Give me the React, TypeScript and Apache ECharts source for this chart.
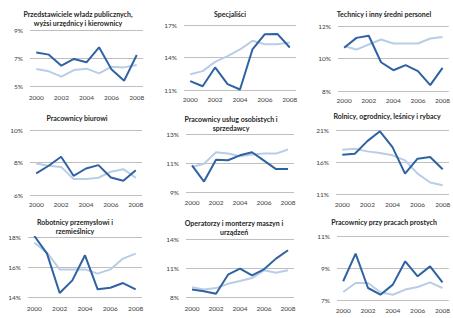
import React, { useEffect, useRef } from "react";
import * as echarts from "echarts";

const years = ["2000", "2001", "2002", "2003", "2004", "2005", "2006", "2007", "2008"];

const titles = [
  "Przedstawiciele władz publicznych,\nwyżsi urzędnicy i kierownicy",
  "Specjaliści",
  "Technicy i inny średni personel",
  "Pracownicy biurowi",
  "Pracownicy usług osobistych i\nsprzedawcy",
  "Rolnicy, ogrodnicy, leśnicy i rybacy",
  "Robotnicy przemysłowi i\nrzemieślnicy",
  "Operatorzy i monterzy maszyn i\nurządzeń",
  "Pracownicy przy pracach prostych",
];

// dark line (series A) and light line (series B), in %
const p1A = [7.4, 7.24, 6.45, 6.93, 6.69, 7.76, 6.17, 5.38, 7.21];
const p1B = [6.21, 6.05, 5.67, 6.14, 6.24, 5.9, 6.38, 6.33, 6.5];
const p2A = [11.82, 11.35, 13.08, 11.54, 11.05, 14.74, 16.15, 16.18, 14.92];
const p2B = [12.46, 12.74, 13.6, 14.12, 14.74, 15.54, 15.23, 15.23, 15.38];
const p3A = [10.66, 11.27, 11.4, 9.77, 9.28, 9.59, 9.22, 8.36, 9.42];
const p3B = [10.76, 10.55, 10.86, 11.17, 10.92, 10.92, 10.92, 11.23, 11.33];
const p4A = [7.33, 7.8, 8.35, 7.18, 7.63, 7.84, 7.08, 6.88, 7.53];
const p4B = [7.94, 7.8, 7.73, 6.98, 6.98, 7.06, 7.43, 7.59, 7.06];
const p5A = [10.84, 9.72, 11.23, 11.19, 11.53, 11.74, 11.16, 10.58, 10.58];
const p5B = [10.72, 10.95, 11.74, 11.65, 11.47, 11.58, 11.65, 11.65, 11.93];
const p6A = [17.14, 17.3, 19.26, 20.8, 18.33, 14.19, 16.52, 16.78, 14.86];
const p6B = [17.92, 18.07, 17.66, 17.4, 17.04, 16.26, 14.19, 12.8, 12.37];
const p7A = [18.07, 16.89, 14.27, 15.11, 16.78, 14.51, 14.62, 14.93, 14.51];
const p7B = [17.62, 16.96, 15.84, 15.84, 15.84, 15.56, 15.84, 16.56, 16.89];
const p8A = [8.78, 8.6, 8.33, 10.31, 10.93, 10.24, 10.86, 11.97, 12.84];
const p8B = [9.02, 8.78, 8.92, 9.37, 9.65, 9.96, 10.76, 10.51, 10.76];
const p9A = [8.17, 9.9, 7.75, 7.33, 7.96, 9.42, 8.48, 9.1, 8.1];
const p9B = [7.5, 8.06, 8.06, 7.48, 7.33, 7.65, 7.81, 8.1, 7.75];

const seriesA = [p1A, p2A, p3A, p4A, p5A, p6A, p7A, p8A, p9A];
const seriesB = [p1B, p2B, p3B, p4B, p5B, p6B, p7B, p8B, p9B];

const yMin = [5, 11, 8, 6, 9, 11, 14, 8, 7];
const yMax = [9, 17, 12, 10, 13, 21, 18, 14, 11];
const yStep = [2, 3, 2, 2, 2, 5, 2, 3, 2];

// layout (pixels)
const grids = [
  { left: 30, top: 30, width: 113, height: 56 },
  { left: 184, top: 25, width: 112, height: 65 },
  { left: 338, top: 26, width: 112, height: 65 },
  { left: 30, top: 130, width: 112, height: 65 },
  { left: 186, top: 134, width: 108, height: 58 },
  { left: 336, top: 130, width: 117, height: 64 },
  { left: 28, top: 237, width: 114, height: 60 },
  { left: 186, top: 239, width: 108, height: 58 },
  { left: 337, top: 236, width: 112, height: 64 },
];
const titlePos = [
  { x: 78, y: 13 },
  { x: 230, y: 13 },
  { x: 384, y: 13 },
  { x: 77, y: 117 },
  { x: 231, y: 118 },
  { x: 387, y: 115 },
  { x: 75, y: 221 },
  { x: 234, y: 222 },
  { x: 384, y: 221 },
];
const xLabelMargin = [8, 6, 6, 6, 7, 7, 8, 8, 7];

const FONT = "Lato";
const DARK = "#2F62A2";
const LIGHT = "#B9CDE6";

export default function App() {
  const ref = useRef<HTMLDivElement>(null);
  useEffect(() => {
    if (!ref.current) return;
    const chart = echarts.init(ref.current, undefined, { renderer: "svg" });
    const series: any[] = [];
    seriesA.forEach((d, i) => {
      series.push({
        type: "line",
        name: "A" + i,
        xAxisIndex: i,
        yAxisIndex: i,
        data: seriesB[i],
        showSymbol: false,
        symbol: "none",
        lineStyle: { color: LIGHT, width: 2 },
        z: 2,
      });
      series.push({
        type: "line",
        name: "B" + i,
        xAxisIndex: i,
        yAxisIndex: i,
        data: d,
        showSymbol: false,
        symbol: "none",
        lineStyle: { color: DARK, width: 2 },
        z: 3,
      });
    });
    const option: any = {
      animation: false,
      textStyle: { fontFamily: FONT },
      grid: grids.map((g) => ({ ...g, containLabel: false })),
      xAxis: grids.map((_, i) => ({
        type: "category",
        gridIndex: i,
        data: years,
        boundaryGap: true,
        axisLine: { show: false },
        axisTick: { show: false },
        axisLabel: {
          interval: 1,
          fontSize: 6.5,
          color: "#404040",
          fontFamily: FONT,
          margin: xLabelMargin[i],
        },
      })),
      yAxis: grids.map((_, i) => ({
        type: "value",
        gridIndex: i,
        min: yMin[i],
        max: yMax[i],
        interval: yStep[i],
        axisLine: { show: false },
        axisTick: { show: false },
        splitLine: { show: true, lineStyle: { color: "#BFBFBF", width: 1.2 } },
        axisLabel: {
          formatter: "{value}%",
          fontSize: 6.5,
          color: "#404040",
          fontFamily: FONT,
          margin: 7,
        },
      })),
      graphic: titles.map((t, i) => ({
        type: "text",
        x: titlePos[i].x,
        y: titlePos[i].y - 4,
        style: {
          text: t,
          align: "center",
          verticalAlign: "top",
          fontSize: 7,
          fontWeight: "bold",
          fontFamily: FONT,
          fill: "#262626",
          lineHeight: 9.5,
        },
      })),
      series,
    };
    chart.setOption(option);
    return () => chart.dispose();
  }, []);
  return (
    <div
      ref={ref}
      style={{ position: "absolute", left: 0, top: 0, width: 453, height: 318, background: "#fff" }}
    />
  );
}
